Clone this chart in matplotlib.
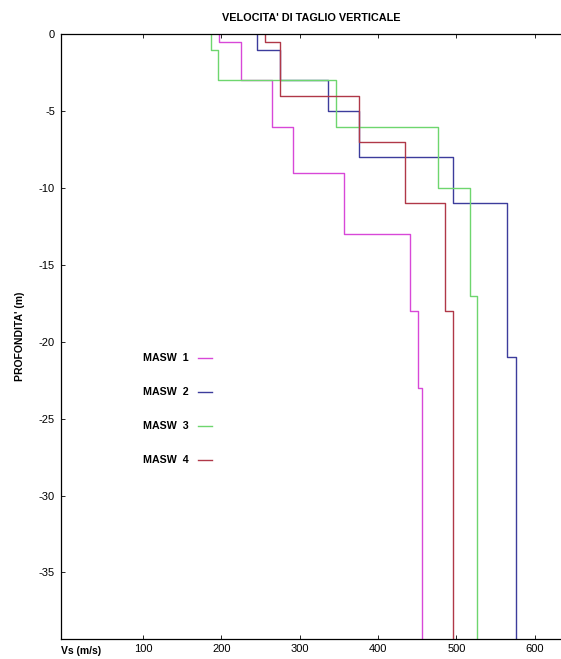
import numpy as np
import matplotlib
matplotlib.use("Agg")
import matplotlib.pyplot as plt
from matplotlib.lines import Line2D

plt.rcParams['font.family'] = ['Liberation Sans', 'DejaVu Sans']
plt.rcParams['axes.unicode_minus'] = False

# Shear-wave velocity profiles: layer top depths (m) and Vs of each layer (m/s)
labels = ["MASW  1", "MASW  2", "MASW  3", "MASW  4"]
tops_1 = [0, 0.5, 3, 6, 9, 13, 18, 23]
vs_1 = [197, 225, 265, 292, 357, 441, 451, 456]
tops_2 = [0, 1, 3, 5, 8, 11, 21]
vs_2 = [246, 275, 336, 376, 496, 565, 576]
tops_3 = [0, 1, 3, 6, 10, 17]
vs_3 = [187, 196, 346, 476, 517, 526]
tops_4 = [0, 0.5, 4, 7, 11, 18]
vs_4 = [256, 275, 376, 435, 486, 496]
colors = ["#d848d8", "#3c3c9c", "#6ed66e", "#b03848"]

max_depth = 39.3
x_ticks = [100, 200, 300, 400, 500, 600]
y_ticks = [0, -5, -10, -15, -20, -25, -30, -35]

fig = plt.figure(figsize=(5.61, 6.59), dpi=100)
ax = fig.add_axes([0.108, 0.031, 0.95, 0.917])

profiles = [(tops_1, vs_1), (tops_2, vs_2), (tops_3, vs_3), (tops_4, vs_4)]
for (tops, vs), col in zip(profiles, colors):
    bottoms = list(tops[1:]) + [max_depth]
    x = np.repeat(vs, 2)
    y = -np.column_stack([tops, bottoms]).ravel()
    ax.plot(x, y, color=col, lw=1.0)

ax.set_xlim(-5, 675)
ax.set_ylim(-max_depth, 0)
ax.set_xticks(x_ticks)
ax.set_yticks(y_ticks)
ax.tick_params(direction='in', length=3, width=0.6, labelsize=8,
               top=True, bottom=True, left=True, right=False, pad=4)
ax.spines['right'].set_visible(False)
for s in ('left', 'bottom', 'top'):
    ax.spines[s].set_linewidth(0.9)

fig.text(311 / 561, 1 - 18 / 659, "VELOCITA' DI TAGLIO VERTICALE", fontsize=7.8,
         fontweight='bold', ha='center', va='center')
ax.set_ylabel("PROFONDITA' (m)", fontsize=7.5, fontweight='bold', labelpad=10)
fig.text(0.108, 0.004, "Vs (m/s)", fontsize=7.5, fontweight='bold', ha='left', va='bottom')

handles = [Line2D([0], [0], color=c, lw=1.0) for c in colors]
leg = ax.legend(handles, labels, loc='upper left', bbox_to_anchor=(0.136, 0.488),
                frameon=False, markerfirst=False, handlelength=1.3, handletextpad=0.9,
                labelspacing=2.25, prop={'weight': 'bold', 'size': 7.7})

fig.savefig("out.png", dpi=100)
